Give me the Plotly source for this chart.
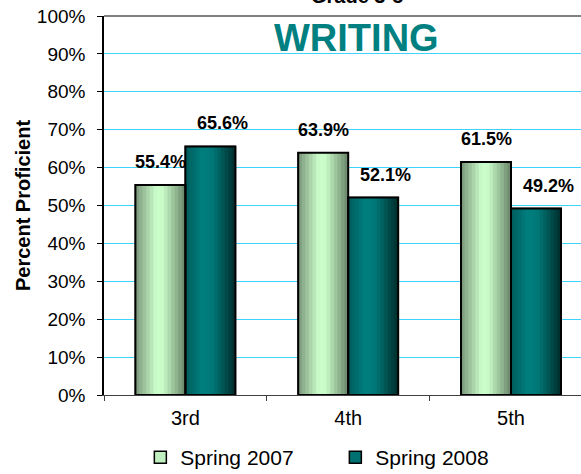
import plotly.graph_objects as go

# ─── DATA ────────────────────────────────────────────────────
GRADES = ["3rd", "4th", "5th"]
SPRING_2007 = [0.554, 0.639, 0.615]
SPRING_2008 = [0.656, 0.521, 0.492]
SERIES_NAMES = ["Spring 2007", "Spring 2008"]

# ─── STYLE ───────────────────────────────────────────────────
FONT = "Liberation Sans, Arial, sans-serif"
GRID = "#3FD2FA"
TEAL = "#008080"
BAR_W = 0.307          # one bar, in category units
N_STRIPS = 14

# gradient stops (position across bar, colour)
GRAD_LIGHT = [(0.0, (122, 150, 122)), (0.42, (204, 255, 204)), (0.55, (200, 250, 200)), (1.0, (104, 132, 104))]
GRAD_DARK = [(0.0, (0, 92, 92)), (0.35, (0, 128, 128)), (0.55, (0, 118, 118)), (1.0, (0, 44, 44))]
MID_COLORS = ["#C0F0C0", "#007070"]


def grad_color(stops, t):
    for (p0, c0), (p1, c1) in zip(stops[:-1], stops[1:]):
        if p0 <= t <= p1:
            f = (t - p0) / (p1 - p0) if p1 > p0 else 0
            return "rgb(%d,%d,%d)" % tuple(round(a + (b - a) * f) for a, b in zip(c0, c1))
    return "rgb(%d,%d,%d)" % stops[-1][1]


fig = go.Figure()

series = [SPRING_2007, SPRING_2008]
offsets = [-BAR_W, 0.0]
grads = [GRAD_LIGHT, GRAD_DARK]

# legend / base bars
for vals, name, off, col in zip(series, SERIES_NAMES, offsets, MID_COLORS):
    fig.add_trace(go.Bar(
        x=GRADES, y=vals, name=name, offset=off, width=BAR_W,
        marker=dict(color=col, line=dict(color="black", width=1.5)),
        hoverinfo="skip",
    ))

# gradient strips
for vals, off, stops in zip(series, offsets, grads):
    step = BAR_W / N_STRIPS
    for k in range(N_STRIPS):
        t = (k + 0.5) / N_STRIPS
        fig.add_trace(go.Bar(
            x=GRADES, y=vals, offset=off + k * step, width=BAR_W - k * step,
            marker=dict(color=grad_color(stops, t), line=dict(width=0)),
            showlegend=False, hoverinfo="skip",
        ))

# outlines on top
for vals, off in zip(series, offsets):
    fig.add_trace(go.Bar(
        x=GRADES, y=vals, offset=off, width=BAR_W,
        marker=dict(color="rgba(0,0,0,0)", line=dict(color="black", width=2)),
        showlegend=False, hoverinfo="skip",
    ))

# value labels
annotations = []
for vals, dx in zip(series, [-25, 37]):
    for g, v in zip(GRADES, vals):
        annotations.append(dict(
            x=g, y=v, xref="x", yref="y", text=f"<b>{v * 100:.1f}%</b>",
            showarrow=False, xshift=dx, yshift=11, yanchor="bottom",
            font=dict(size=18, color="black", family=FONT),
        ))

annotations += [
    dict(x=0.53, y=1, xref="paper", yref="paper", text="<b>Grade 3-5</b>",
         showarrow=False, yanchor="bottom", yshift=7,
         font=dict(size=20, color="black", family=FONT)),
    dict(x=0.53, y=0.88, xref="paper", yref="paper", text="<b>WRITING</b>",
         showarrow=False, yanchor="bottom",
         font=dict(size=38, color=TEAL, family=FONT)),
]

fig.update_layout(
    width=581, height=474,
    margin=dict(l=104, r=0, t=15.5, b=78.5, autoexpand=False),
    paper_bgcolor="white", plot_bgcolor="white",
    font=dict(family=FONT, color="black", size=19),
    barmode="overlay",
    showlegend=True,
    legend=dict(
        orientation="h", x=0.485, xanchor="center", y=-0.165, yanchor="middle",
        font=dict(size=21, family=FONT), entrywidth=150, itemwidth=30,
        bgcolor="rgba(0,0,0,0)",
    ),
    xaxis=dict(
        range=[-0.5, 2.43], showgrid=False, showline=True, linecolor="#404040", linewidth=1,
        ticks="outside", tickson="boundaries", ticklen=5, tickcolor="#404040",
        tickfont=dict(size=20), ticklabelstandoff=5, fixedrange=True, automargin=False,
    ),
    yaxis=dict(
        range=[0, 1], dtick=0.1, tickformat=".0%",
        showgrid=True, gridcolor=GRID, gridwidth=1, zeroline=False,
        showline=True, linecolor="black", linewidth=1.5,
        ticks="outside", ticklen=5, tickcolor="black",
        tickfont=dict(size=19), ticklabelstandoff=8, automargin=False,
        title=dict(text="<b>Percent Proficient</b>", font=dict(size=20), standoff=1),
    ),
    shapes=[dict(type="line", xref="paper", yref="paper", x0=0, x1=1, y0=1, y1=1,
                 line=dict(color="#808080", width=2))],
    annotations=annotations,
)

fig.write_html("out.html", config={"displayModeBar": False},
               post_script="document.body.style.margin='0px';")
